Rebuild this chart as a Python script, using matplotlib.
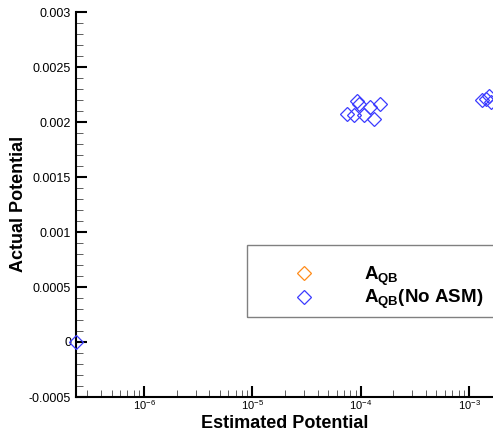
import math
import matplotlib
matplotlib.use("Agg")
import matplotlib.pyplot as plt
from matplotlib.ticker import FixedLocator, FuncFormatter, MultipleLocator, LogLocator, NullFormatter
from matplotlib.patches import Rectangle

plt.rcParams['font.family'] = ['Liberation Sans', 'DejaVu Sans']
plt.rcParams['mathtext.fontset'] = 'custom'
plt.rcParams['mathtext.rm'] = 'Liberation Sans'
plt.rcParams['mathtext.bf'] = 'Liberation Sans:bold'
plt.rcParams['mathtext.it'] = 'Liberation Sans:italic'
plt.rcParams['axes.unicode_minus'] = False

# Data
aqb_x = []
aqb_y = []
noasm_x = [2.35e-7, 7.4e-5, 8.6e-5, 9.3e-5, 9.6e-5, 1.07e-4, 1.23e-4, 1.32e-4, 1.5e-4,
           1.32e-3, 1.44e-3, 1.53e-3, 1.6e-3]
noasm_y = [0.0, 0.00207, 0.00206, 0.00219, 0.00216, 0.00206, 0.00214, 0.00203, 0.00216,
           0.00220, 0.00221, 0.00224, 0.00218]
labels = [r'$\mathbf{A_{QB}}$', r'$\mathbf{A_{QB}}$(No ASM)']
xlabel = 'Estimated Potential'
ylabel = 'Actual Potential'
yticks = [-0.0005, 0, 0.0005, 0.001, 0.0015, 0.002, 0.0025, 0.003]
xticks = [1e-6, 1e-5, 1e-4, 1e-3]

W, H = 493, 440
fig = plt.figure(figsize=(W / 100, H / 100), dpi=100)
left_px, right_px, top_px, bot_px = 76, 495, 12, 397
ax = fig.add_axes([left_px / W, 1 - bot_px / H, (right_px - left_px) / W, (bot_px - top_px) / H])

ax.set_xscale('log')
l_o, = ax.plot(aqb_x, aqb_y, linestyle='none', marker='D', markersize=7,
               markerfacecolor='none', markeredgecolor='#ff8c1a', markeredgewidth=0.9)
l_b, = ax.plot(noasm_x, noasm_y, linestyle='none', marker='D', markersize=7,
               markerfacecolor='none', markeredgecolor='#3b3bff', markeredgewidth=0.9,
               clip_on=False, zorder=5)

ax.set_xlim(2.35e-7, 10 ** (-3 + (right_px - 469) / 108.3))
ax.set_ylim(-0.0005, 0.003)

for s in ['top', 'right']:
    ax.spines[s].set_visible(False)
for s in ['left', 'bottom']:
    ax.spines[s].set_linewidth(1.5)

ax.xaxis.set_major_locator(FixedLocator(xticks))
ax.xaxis.set_minor_locator(LogLocator(base=10, subs=range(2, 10), numticks=20))
ax.xaxis.set_minor_formatter(NullFormatter())
ax.xaxis.set_major_formatter(FuncFormatter(lambda v, p: r'10$^{%d}$' % round(math.log10(v))))
ax.yaxis.set_major_locator(FixedLocator(yticks))
ax.yaxis.set_minor_locator(MultipleLocator(0.0001))
ax.yaxis.set_major_formatter(FuncFormatter(lambda v, p: '%g' % v if abs(v) > 1e-12 else '0'))

ax.tick_params(axis='both', which='major', direction='in', length=8, width=1.5, labelsize=9)
ax.tick_params(axis='both', which='minor', direction='in', length=5, width=0.6, color='#444444')
ax.tick_params(axis='x', which='major', labelsize=8, pad=1)

fig.text(285 / W, 1 - 423 / H, xlabel, fontsize=13, fontweight='bold', ha='center', va='center')
fig.text(19 / W, 1 - 204 / H, ylabel, fontsize=13, fontweight='bold', ha='center', va='center',
         rotation=90)

fig.patches.append(Rectangle((247 / W, 1 - 317 / H), (W + 20 - 247) / W, (317 - 245) / H,
                             transform=fig.transFigure, fill=False, edgecolor='#808080',
                             linewidth=1.0, zorder=10))
leg = fig.legend([l_o, l_b], labels, loc='center left',
                 bbox_to_anchor=(276 / W, 1 - 288 / H), frameon=False,
                 prop={'size': 13.5, 'weight': 'bold'}, handletextpad=2.6, labelspacing=0.0,
                 handlelength=1.2)

fig.savefig('out.png', dpi=100)
